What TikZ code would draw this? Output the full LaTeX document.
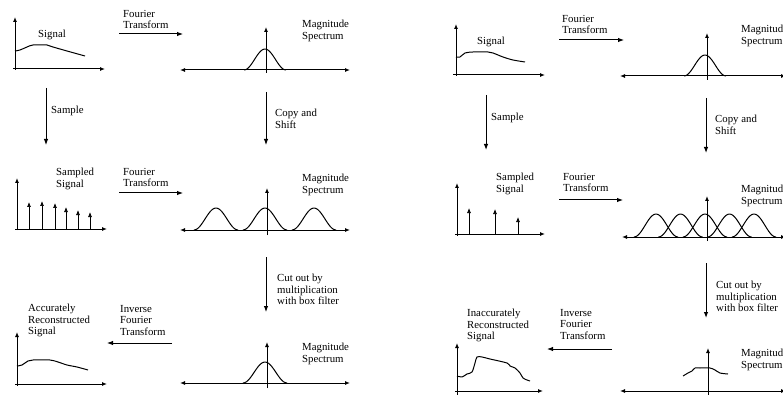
\documentclass[tikz,border=0pt]{standalone}
\usepackage{fontspec}
\setmainfont{Liberation Serif}
\usetikzlibrary{arrows.meta}
\tikzset{
  axis/.style={-{Latex[length=5pt,width=4pt]}, line width=1pt},
  dblaxis/.style={{Latex[length=5pt,width=4pt]}-{Latex[length=5pt,width=4pt]}, line width=1pt},
  flow/.style={-{Latex[length=6pt,width=4.5pt]}, line width=1pt},
  curve/.style={line width=1pt, line join=round},
  spike/.style={-{Latex[length=5pt,width=4pt]}, line width=0.7pt},
  lbl/.style={anchor=north west, inner sep=0pt, align=left,
    font=\fontsize{10.8}{11.5}\selectfont}
}
% raised cosine bump: centre, baseline, height, half width
\newcommand{\specbump}[4]{%
  \draw[curve] plot[domain=-#4:#4, samples=25]
    ({#1+\x},{#2-#3*(0.5+0.5*cos(180*\x/#4))});}
\begin{document}
\begin{tikzpicture}[x=1pt, y=-1pt]
\useasboundingbox (0,0) rectangle (783,395);
\clip (0,0) rectangle (783,395);

%%% left half: adequate sampling
% signal
\draw[axis] (15,70) -- (15,17);
\draw[axis] (13,69) -- (105,69);
\draw[curve] plot[smooth] coordinates {(15,51) (20,50) (27,47) (33,45) (47,45) (53,47) (67,51) (85,56)};
\node[lbl] (sigA) at (38,30) {Signal};
% spectrum
\draw[dblaxis] (180,70) -- (350,70);
\draw[axis] (266,73) -- (266,27);
\specbump{265}{70}{21}{21}
\node[lbl] (magA) at (302,20) {Magnitude\\Spectrum};
% transform
\coordinate (ftAs) at (119,34);
\coordinate (ftAe) at (183,34);
\draw[flow] (ftAs) -- (ftAe);
\node[lbl] (ftA) at (123,10) {Fourier\\Transform};
% sample
\coordinate (smpAs) at (46,88);
\coordinate (smpAe) at (46,145);
\draw[flow] (smpAs) -- (smpAe);
\node[lbl] (smpA) at (51,106) {Sample};
% copy and shift
\coordinate (cpAs) at (266,92);
\coordinate (cpAe) at (266,145);
\draw[flow] (cpAs) -- (cpAe);
\node[lbl] (cpA) at (275,109) {Copy and\\Shift};
% sampled signal
\draw[axis] (17,230) -- (17,178);
\draw[axis] (15,229) -- (107,229);
\foreach \px/\py in {29/202, 42/201, 55/203, 66/207, 78/210, 90/212}
  {\draw[spike] (\px,229) -- (\px,\py);}
\node[lbl] (ssigA) at (56,168) {Sampled\\Signal};
\coordinate (ftBs) at (119,193);
\coordinate (ftBe) at (183,193);
\draw[flow] (ftBs) -- (ftBe);
\node[lbl] (ftB) at (123,168) {Fourier\\Transform};
% copies of the spectrum
\draw[dblaxis] (180,230) -- (350,230);
\draw[axis] (267,235) -- (267,188);
\foreach \c in {216,265,314}
  {\specbump{\c}{230}{22}{22}}
\node[lbl] (magB) at (302,174) {Magnitude\\Spectrum};
% box filter
\coordinate (cutAs) at (266,257);
\coordinate (cutAe) at (266,312);
\draw[flow] (cutAs) -- (cutAe);
\node[lbl] (cutA) at (277,274) {Cut out by\\multiplication\\with box filter};
\draw[dblaxis] (180,383) -- (350,383);
\draw[axis] (267,388) -- (267,342);
\specbump{265}{383}{21}{22}
\node[lbl] (magC) at (302,343) {Magnitude\\Spectrum};
% inverse transform
\coordinate (iftAs) at (172,343);
\coordinate (iftAe) at (107,343);
\draw[flow] (iftAs) -- (iftAe);
\node[lbl] (iftA) at (120,305) {Inverse\\Fourier\\Transform};
% reconstruction
\draw[axis] (17,386) -- (17,332);
\draw[axis] (15,384) -- (107,384);
\draw[curve] plot[smooth] coordinates {(17,366) (22,365) (28,361) (33,360) (50,360) (58,362) (67,365) (77,367) (88,370)};
\node[lbl] (recA) at (28,304) {Accurately\\Reconstructed\\Signal};

%%% right half: undersampling
% signal
\draw[axis] (456,76) -- (456,24);
\draw[axis] (453,75) -- (545,75);
\draw[curve] plot[smooth] coordinates {(456,57) (460,57) (465,53) (473,52) (488,52) (493,53) (503,57) (513,60) (525,62)};
\node[lbl] (sigB) at (477,37) {Signal};
% spectrum
\draw[dblaxis] (620,76) -- (786,76);
\draw[axis] (707,80) -- (707,33);
\specbump{705}{76}{21}{21}
\node[lbl] (magD) at (741,25) {Magnitude\\Spectrum};
\coordinate (ftCs) at (559,40);
\coordinate (ftCe) at (624,40);
\draw[flow] (ftCs) -- (ftCe);
\node[lbl] (ftC) at (562,15) {Fourier\\Transform};
% sample
\coordinate (smpBs) at (486,95);
\coordinate (smpBe) at (486,150);
\draw[flow] (smpBs) -- (smpBe);
\node[lbl] (smpB) at (491,113) {Sample};
% copy and shift
\coordinate (cpBs) at (706,98);
\coordinate (cpBe) at (706,153);
\draw[flow] (cpBs) -- (cpBe);
\node[lbl] (cpB) at (715,115) {Copy and\\Shift};
% sampled signal
\draw[axis] (457,236) -- (457,183);
\draw[axis] (455,234) -- (545,234);
\foreach \px/\py in {469/208, 495/209, 518/217}
  {\draw[spike] (\px,234) -- (\px,\py);}
\node[lbl] (ssigB) at (496,173) {Sampled\\Signal};
\coordinate (ftDs) at (559,200);
\coordinate (ftDe) at (623,200);
\draw[flow] (ftDs) -- (ftDe);
\node[lbl] (ftD) at (563,173) {Fourier\\Transform};
% overlapping copies
\draw[dblaxis] (622,237) -- (786,237);
\draw[axis] (707,241) -- (707,196);
\foreach \c in {656,680.5,705,729.5,754}
  {\specbump{\c}{237}{23}{22}}
\node[lbl] (magE) at (741,185) {Magnitude\\Spectrum};
% box filter
\coordinate (cutBs) at (706,263);
\coordinate (cutBe) at (706,318);
\draw[flow] (cutBs) -- (cutBe);
\node[lbl] (cutB) at (716,281) {Cut out by\\multiplication\\with box filter};
\draw[dblaxis] (620,391) -- (786,391);
\draw[axis] (708,396) -- (708,348);
\draw[curve] plot[smooth] coordinates {(683,376) (688,373) (692,371) (695,368) (700,368) (710,368) (715,370) (720,373) (728,374)};
\node[lbl] (magF) at (741,349) {Magnitude\\Spectrum};
% inverse transform
\coordinate (iftBs) at (612,349);
\coordinate (iftBe) at (547,349);
\draw[flow] (iftBs) -- (iftBe);
\node[lbl] (iftB) at (560,309) {Inverse\\Fourier\\Transform};
% reconstruction
\draw[axis] (457,398) -- (457,343);
\draw[axis] (455,391) -- (543,391);
\draw[curve] plot[smooth] coordinates {(457,376) (462,377) (467,374) (472,372) (475,363) (477,357) (482,357) (490,359) (507,363) (510,366) (515,368) (520,373) (523,378) (527,380) (530,381)};
\node[lbl] (recB) at (467,309) {Inaccurately\\Reconstructed\\Signal};
\end{tikzpicture}
\end{document}
